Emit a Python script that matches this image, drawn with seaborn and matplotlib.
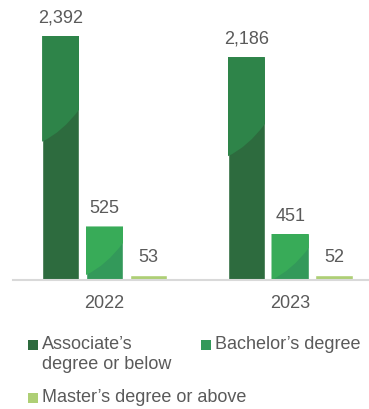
import matplotlib
matplotlib.use("Agg")
import matplotlib.pyplot as plt
from matplotlib.path import Path
from matplotlib.patches import PathPatch, Rectangle
import pandas as pd
import seaborn as sns

# Headcount by education level
years = ["2022", "2023"]
levels = ["Associate\u2019s degree or below", "Bachelor\u2019s degree", "Master\u2019s degree or above"]
associate = [2392, 2186]
bachelor = [525, 451]
master = [53, 52]

legend_labels = ["Associate\u2019s\ndegree or below", "Bachelor\u2019s degree", "Master\u2019s degree or above"]

base_colors = ["#2D6B3E", "#33995A", "#AECF75"]
sheen_colors = ["#2E8449", "#38AB58", None]
text_color = "#5A5A5A"

df = pd.DataFrame({
    "year": years * 3,
    "level": [levels[0]] * 2 + [levels[1]] * 2 + [levels[2]] * 2,
    "count": associate + bachelor + master,
})

sns.set_theme(style="white")
plt.rcParams["font.family"] = ["Liberation Sans", "DejaVu Sans"]

W, H = 369, 409
fig = plt.figure(figsize=(W / 100, H / 100), dpi=100)
ax = fig.add_axes([13 / W, 129 / H, 356 / W, 260 / H])

sns.barplot(data=df, x="year", y="count", hue="level", order=years,
            hue_order=levels, palette=base_colors, width=0.71, gap=0.15,
            saturation=1, legend=False, ax=ax)

ymax = max(associate) * 260 / 244
ax.set_ylim(0, ymax)
ax.set_xlim(-0.494, 1.425)

# Soft sheen in the upper-left of each bar, clipped to the bar
drop = 0.125 * ymax
for cont, sheen in zip(ax.containers, sheen_colors):
    if sheen is None:
        continue
    for bar in cont:
        x0, w, h = bar.get_x(), bar.get_width(), bar.get_height()
        yr = 0.7 * h
        yl = max(yr - drop, 0)
        verts = [(x0, h), (x0 + w, h), (x0 + w, yr),
                 (x0 + 0.55 * w, yl + 0.3 * (yr - yl)), (x0, yl), (x0, h)]
        codes = [Path.MOVETO, Path.LINETO, Path.LINETO,
                 Path.CURVE3, Path.CURVE3, Path.CLOSEPOLY]
        p = PathPatch(Path(verts, codes), facecolor=sheen, edgecolor="none",
                      zorder=bar.get_zorder() + 0.1)
        ax.add_patch(p)
        p.set_clip_path(bar)

for cont in ax.containers:
    ax.bar_label(cont, labels=[f"{v:,.0f}" for v in cont.datavalues],
                 padding=6.5, fontsize=13, color=text_color)

for side in ["left", "right", "top"]:
    ax.spines[side].set_visible(False)
ax.spines["bottom"].set_color("#D9D9D9")
ax.spines["bottom"].set_linewidth(1.5)
ax.set_yticks([])
ax.set_xlabel("")
ax.set_ylabel("")
ax.tick_params(axis="x", length=0, pad=11, labelsize=13, labelcolor=text_color)

# Legend: squares and labels laid out in figure pixels
def fy(py):
    return 1 - py / H

# (square x, square top, text x, baseline of the last text line, label, colour)
entries = [
    (28, 340, 42, 369, legend_labels[0], base_colors[0]),
    (201, 340, 215, 349, legend_labels[1], base_colors[1]),
    (28, 393, 42, 402, legend_labels[2], base_colors[2]),
]
for sx, sy, tx, ty, label, color in entries:
    fig.patches.append(Rectangle((sx / W, fy(sy + 9.5)), 10 / W, 9.5 / H,
                                 transform=fig.transFigure, facecolor=color,
                                 edgecolor="none"))
    fig.text(tx / W, fy(ty), label, fontsize=13, color=text_color,
             ha="left", va="baseline", linespacing=1.22)

fig.savefig("out.png", dpi=100)
